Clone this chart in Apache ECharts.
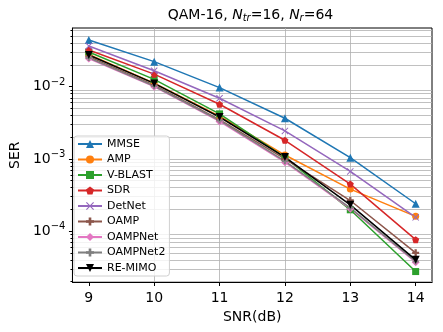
<!DOCTYPE html>
<html>
<head>
  <meta charset="utf-8">
</head>
<body style="margin: 0">
  <div id="container" style="width: 443px; height: 332px"></div>

  <script type="text/javascript" src="https://cdn.jsdelivr.net/npm/echarts@6/dist/echarts.min.js"></script>

  <script type="text/javascript">
    // SNR points and SER curves
    var snr = [9, 10, 11, 12, 13, 14];
    var mmse     = [0.0443, 0.0222, 0.0097, 0.00365, 0.00104, 0.000239];
    var amp      = [0.0280, 0.0112, 0.0039, 0.00113, 0.000381, 0.000160];
    var vblast   = [0.0302, 0.0126, 0.0042, 0.00105, 0.000197, 0.0000275];
    var sdr      = [0.0322, 0.0149, 0.0057, 0.00181, 0.000447, 0.000076];
    var detnet   = [0.0366, 0.0166, 0.0069, 0.00244, 0.000670, 0.000155];
    var oamp     = [0.0260, 0.0105, 0.0035, 0.00100, 0.000265, 0.000050];
    var oampnet  = [0.0245, 0.0100, 0.0033, 0.00090, 0.000204, 0.000037];
    var oampnet2 = [0.0250, 0.0102, 0.0034, 0.00093, 0.000210, 0.000038];
    var remimo   = [0.0274, 0.0111, 0.0038, 0.00106, 0.000231, 0.000040];
    var yTicks = [1e-4, 1e-3, 1e-2];

    var pentagon = 'path://M0,-1 L0.951,-0.309 L0.588,0.809 L-0.588,0.809 L-0.951,-0.309 Z';
    var plus = 'path://M-1,-0.33 L-0.33,-0.33 L-0.33,-1 L0.33,-1 L0.33,-0.33 L1,-0.33 L1,0.33 L0.33,0.33 L0.33,1 L-0.33,1 L-0.33,0.33 L-1,0.33 Z';
    var cross = 'path://M-1,-0.8 L-0.8,-1 L0,-0.2 L0.8,-1 L1,-0.8 L0.2,0 L1,0.8 L0.8,1 L0,0.2 L-0.8,1 L-1,0.8 L-0.2,0 Z';

    var curves = [
      { name: 'MMSE', data: mmse, color: '#1f77b4', symbol: 'triangle', size: 8 },
      { name: 'AMP', data: amp, color: '#ff7f0e', symbol: 'circle', size: 7 },
      { name: 'V-BLAST', data: vblast, color: '#2ca02c', symbol: 'rect', size: 7 },
      { name: 'SDR', data: sdr, color: '#d62728', symbol: pentagon, size: 7 },
      { name: 'DetNet', data: detnet, color: '#9467bd', symbol: cross, size: 7 },
      { name: 'OAMP', data: oamp, color: '#8c564b', symbol: plus, size: 7 },
      { name: 'OAMPNet', data: oampnet, color: '#e377c2', symbol: 'diamond', size: 8 },
      { name: 'OAMPNet2', data: oampnet2, color: '#7f7f7f', symbol: plus, size: 6 },
      { name: 'RE-MIMO', data: remimo, color: '#000000', symbol: 'triangle', size: 8, rotate: 180 }
    ];

    var font = 'DejaVu Sans';

    var dom = document.getElementById('container');
    var myChart = echarts.init(dom, null, { renderer: 'canvas' });

    var option = {
      animation: false,
      backgroundColor: '#fff',
      title: {
        text: '{n|QAM-16, }{i|N}{sub|tr}{n|=16, }{i|N}{sub|r}{n|=64}',
        left: 250.5,
        top: 6,
        padding: 0,
        textAlign: 'center',
        textStyle: {
          fontWeight: 'normal',
          rich: {
            n: { fontFamily: font, fontSize: 14, fontWeight: 'normal', color: '#000', lineHeight: 18 },
            i: { fontFamily: font, fontSize: 14, fontWeight: 'normal', fontStyle: 'italic', color: '#000', lineHeight: 18 },
            sub: { fontFamily: font, fontSize: 10, fontWeight: 'normal', fontStyle: 'italic', color: '#000', padding: [7, 0, 0, 0] }
          }
        }
      },
      grid: {
        left: 69,
        right: 11,
        top: 28,
        bottom: 49.5,
        show: true,
        borderColor: '#000',
        borderWidth: 1
      },
      legend: {
        orient: 'vertical',
        left: 74,
        top: 136,
        padding: [2, 4, 2, 3],
        itemGap: 3.5,
        itemWidth: 24,
        itemHeight: 10,
        backgroundColor: 'rgba(255,255,255,0.8)',
        borderColor: '#d0d0d0',
        borderWidth: 1,
        borderRadius: 3,
        textStyle: { fontFamily: font, fontSize: 11, color: '#000', lineHeight: 12 },
        data: curves.map(function (c) { return c.name; })
      },
      xAxis: {
        type: 'value',
        min: 8.75,
        max: 14.25,
        splitNumber: 5,
        name: 'SNR(dB)',
        nameLocation: 'middle',
        nameGap: 21,
        nameTextStyle: { fontFamily: font, fontSize: 14, color: '#000' },
        axisLine: { show: true, lineStyle: { color: '#000', width: 1 } },
        axisTick: { show: true, length: 3.5, customValues: snr, lineStyle: { color: '#000' } },
        axisLabel: { customValues: snr, margin: 9, fontFamily: font, fontSize: 14, color: '#000' },
        splitLine: { show: true, showMinLine: false, showMaxLine: false, lineStyle: { color: '#b0b0b0', width: 0.8 } }
      },
      yAxis: {
        type: 'log',
        logBase: 10,
        min: 1.94e-5,
        max: 0.0649,
        name: 'SER',
        nameLocation: 'middle',
        nameGap: 44,
        nameTextStyle: { fontFamily: font, fontSize: 14, color: '#000' },
        axisLine: { show: true, lineStyle: { color: '#000', width: 1 } },
        axisTick: { show: true, length: 3.5, customValues: yTicks, lineStyle: { color: '#000' } },
        minorTick: { show: true, splitNumber: 9, length: 2, lineStyle: { color: '#000' } },
        axisLabel: {
          customValues: yTicks,
          margin: 7,
          formatter: function (v) {
            var e = Math.round(Math.log10(v));
            return '{b|10}{s|\u2212' + (-e) + '}';
          },
          rich: {
            b: { fontFamily: font, fontSize: 14, color: '#000' },
            s: { fontFamily: font, fontSize: 10, color: '#000', padding: [0, 0, 9, 0] }
          }
        },
        splitLine: { show: true, showMinLine: false, showMaxLine: false, lineStyle: { color: '#b0b0b0', width: 0.8 } },
        minorSplitLine: { show: true, lineStyle: { color: '#b0b0b0', width: 0.8 } }
      },
      series: curves.map(function (c) {
        return {
          name: c.name,
          type: 'line',
          data: snr.map(function (x, i) { return [x, c.data[i]]; }),
          symbol: c.symbol,
          symbolSize: c.size,
          symbolRotate: c.rotate || 0,
          showAllSymbol: true,
          lineStyle: { color: c.color, width: 1.5 },
          itemStyle: { color: c.color },
          emphasis: { disabled: true }
        };
      })
    };

    myChart.setOption(option);
    window.addEventListener('resize', myChart.resize);
  </script>
</body>
</html>
